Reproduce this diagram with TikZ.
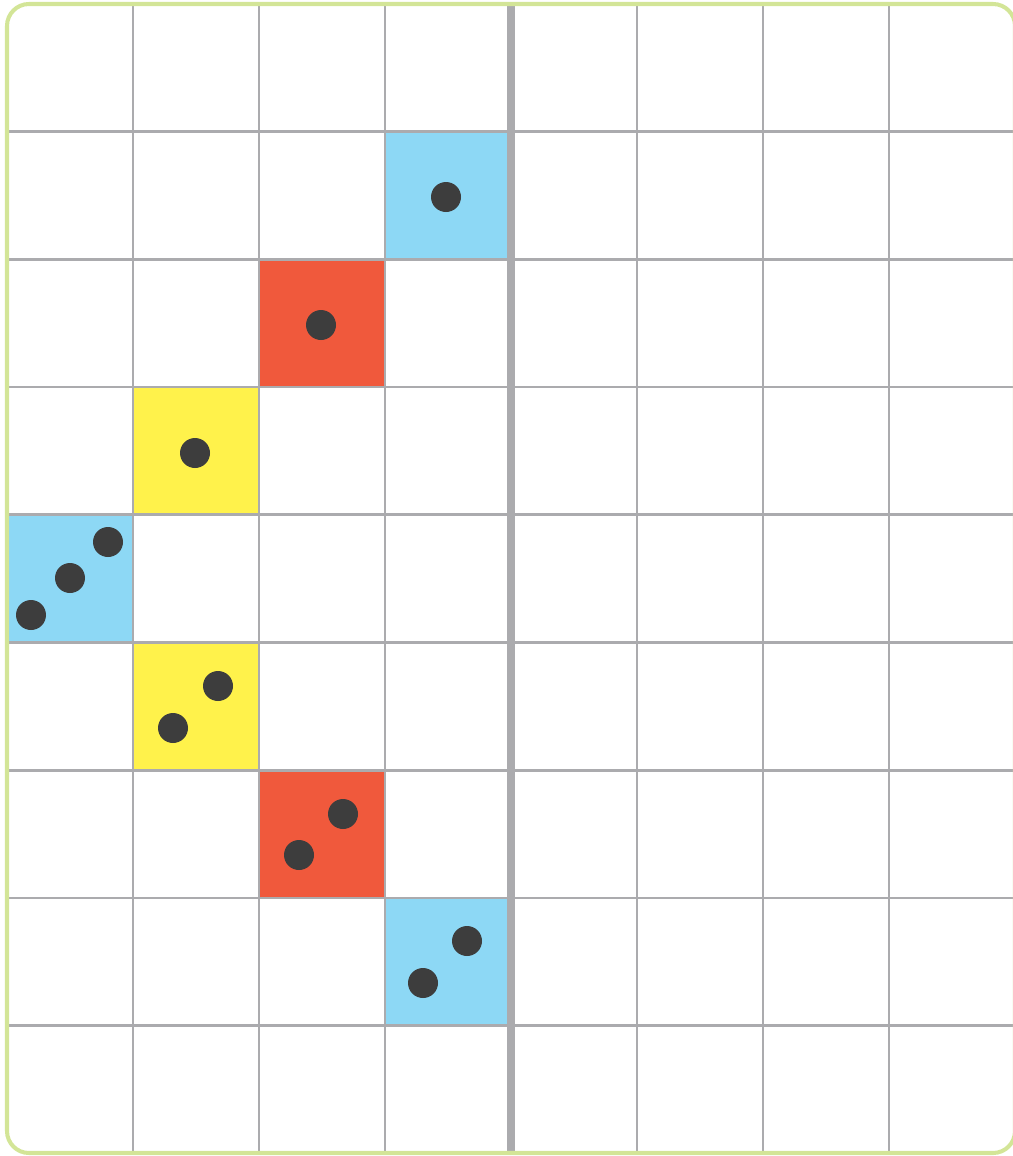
\documentclass[tikz,border=0pt]{standalone}
\usepackage{xcolor}
\definecolor{cellblue}{HTML}{8DD8F5}
\definecolor{cellred}{HTML}{F0593C}
\definecolor{cellyellow}{HTML}{FFF24B}
\definecolor{pipgray}{HTML}{3D3D3D}
\definecolor{gridgray}{HTML}{ABABAE}
\definecolor{framegreen}{HTML}{D3E597}

\begin{document}
\begin{tikzpicture}[x=0.02cm, y=-0.02cm,
    gridline/.style={gridgray, line width=1.5pt},
    pip/.style={fill=pipgray}]
  \useasboundingbox (0,0) rectangle (1013,1156);
  % coloured cells: column c, row r (cell 126 x 127.7)
  \foreach \c/\r/\col in {%
      3/1/cellblue,
      2/2/cellred,
      1/3/cellyellow,
      0/4/cellblue,
      1/5/cellyellow,
      2/6/cellred,
      3/7/cellblue}
  {
    \fill[\col] ({7+126*\c},{4+127.7*\r}) rectangle ++(126,127.7);
  }
  % grid
  \foreach \c in {1,...,7}
    \draw[gridline] ({7+126*\c},4) -- ({7+126*\c},1153);
  \foreach \r in {1,...,8}
    \draw[gridline] (7,{4+127.7*\r}) -- (1015,{4+127.7*\r});
  % middle divider
  \draw[gridgray, line width=5pt] (511,4) -- (511,1153);
  % pips
  \foreach \px/\py in {446/197, 321/325, 195/453,
      31/615, 70/578, 108/542,
      173/728, 218/686,
      299/855, 343/814,
      423/983, 467/941}
    \fill[pip] (\px,\py) circle[radius=15];
  % frame
  \draw[framegreen, line width=2.3pt, rounded corners=12.5pt] (7,4) rectangle (1015,1153);
\end{tikzpicture}
\end{document}
